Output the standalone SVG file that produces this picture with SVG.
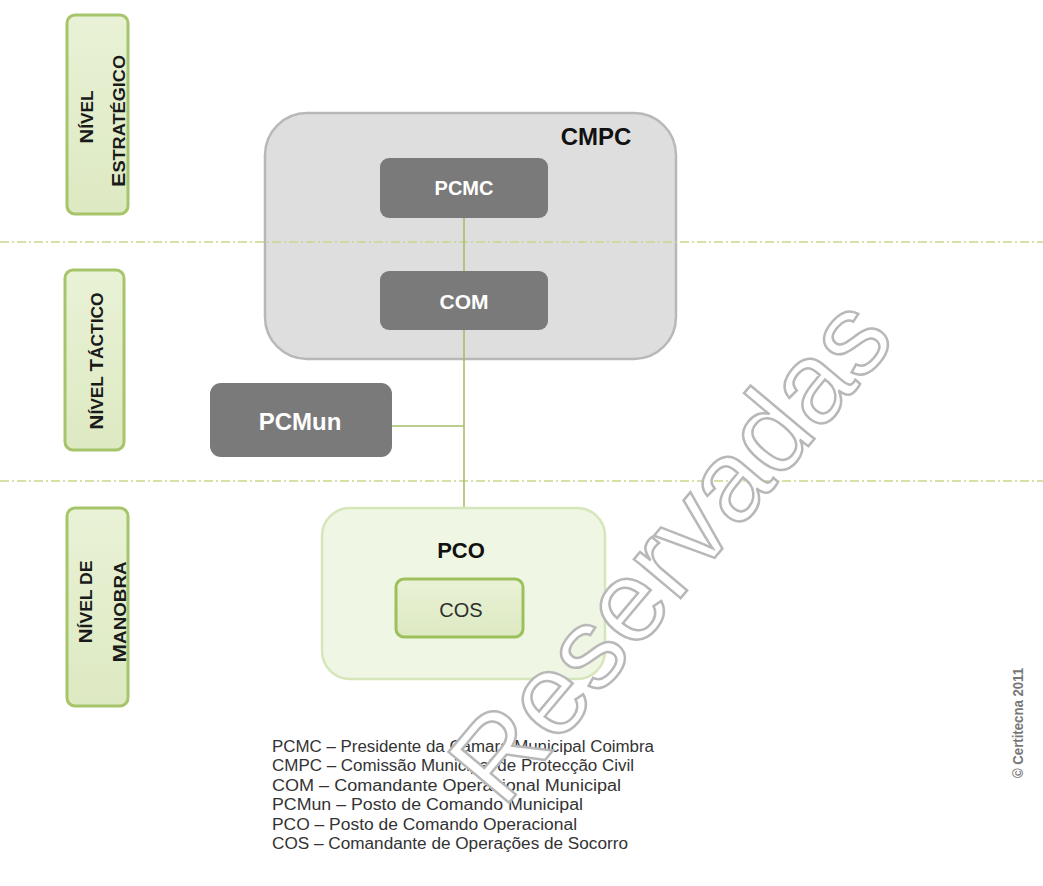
<svg xmlns="http://www.w3.org/2000/svg" width="1043" height="886" viewBox="0 0 1043 886">
<style>
.sep{stroke:#c6d78a;stroke-width:1.6;stroke-dasharray:9 3 2 3;fill:none}
.lvl{fill:url(#gl);stroke:#a6c56a;stroke-width:3}
.lvt{font-family:"Liberation Sans",Arial,sans-serif;font-weight:bold;fill:#1a1a1a;text-anchor:middle}
.dark{fill:#7a7a7a}
.wt{font-family:"Liberation Sans",Arial,sans-serif;font-weight:bold;fill:#ffffff;text-anchor:middle}
.bt{font-family:"Liberation Sans",Arial,sans-serif;font-weight:bold;fill:#111;text-anchor:middle}
.leg{font-family:"Liberation Sans",Arial,sans-serif;font-size:16px;fill:#333}
.con{stroke:#a3bf68;stroke-width:1.6;fill:none}
</style>
<defs>
<linearGradient id="gl" x1="0" y1="0" x2="0" y2="1">
<stop offset="0" stop-color="#e9f2d6"/><stop offset="1" stop-color="#dde9c2"/>
</linearGradient>
</defs>
<rect width="1043" height="886" fill="#ffffff"/>
<g id="level-estrategico">
<rect class="lvl" x="67" y="15" width="61" height="199" rx="8"/>
<text class="lvt" transform="translate(93,117) rotate(-90)" textLength="53" lengthAdjust="spacingAndGlyphs"><tspan font-size="19">N</tspan><tspan font-size="16">ÍVEL</tspan></text>
<text class="lvt" transform="translate(125,121) rotate(-90)" textLength="132" lengthAdjust="spacingAndGlyphs"><tspan font-size="19">E</tspan><tspan font-size="16">STRATÉGICO</tspan></text>
</g>
<g id="level-tactico">
<rect class="lvl" x="65" y="270" width="59" height="180" rx="8"/>
<text class="lvt" transform="translate(103,361) rotate(-90)" textLength="137" lengthAdjust="spacingAndGlyphs"><tspan font-size="19">N</tspan><tspan font-size="16">ÍVEL </tspan><tspan font-size="19">T</tspan><tspan font-size="16">ÁCTICO</tspan></text>
</g>
<g id="level-manobra">
<rect class="lvl" x="67" y="508" width="61" height="198" rx="8"/>
<text class="lvt" transform="translate(92,602) rotate(-90)" textLength="83" lengthAdjust="spacingAndGlyphs"><tspan font-size="19">N</tspan><tspan font-size="16">ÍVEL DE</tspan></text>
<text class="lvt" transform="translate(126,612) rotate(-90)" textLength="101" lengthAdjust="spacingAndGlyphs"><tspan font-size="19">M</tspan><tspan font-size="16">ANOBRA</tspan></text>
</g>
<g id="CMPC">
<rect x="265" y="113" width="411" height="246" rx="42" fill="#dedede" stroke="#b8b8b8" stroke-width="2.5"/>
<text class="bt" x="596" y="145" font-size="24">CMPC</text>
</g>
<g id="separators">
<line class="sep" x1="0" y1="242" x2="1043" y2="242"/>
<line class="sep" x1="0" y1="481" x2="1043" y2="481"/>
</g>
<g id="connectors">
<line class="con" x1="464" y1="218" x2="464" y2="272"/>
<line class="con" x1="464" y1="330" x2="464" y2="509"/>
<line class="con" x1="392" y1="426" x2="464" y2="426"/>
</g>
<g id="PCMC">
<rect class="dark" x="380" y="158" width="168" height="60" rx="9"/>
<text class="wt" x="464" y="195" font-size="20">PCMC</text>
</g>
<g id="COM">
<rect class="dark" x="380" y="271" width="168" height="59" rx="9"/>
<text class="wt" x="464" y="309" font-size="21">COM</text>
</g>
<g id="PCMun">
<rect class="dark" x="210" y="383" width="182" height="74" rx="11"/>
<text class="wt" x="300" y="430" font-size="24">PCMun</text>
</g>
<g id="PCO">
<rect x="322" y="508" width="283" height="171" rx="28" fill="#eff6e3" stroke="#d6e6bb" stroke-width="2.5"/>
<text class="bt" x="461" y="558" font-size="22">PCO</text>
</g>
<g id="COS">
<rect x="396" y="579" width="127" height="58" rx="8" fill="url(#gl)" stroke="#9dbf5c" stroke-width="3"/>
<text x="461" y="617" font-family="'Liberation Sans',Arial,sans-serif" font-size="20" fill="#2e2e2e" text-anchor="middle">COS</text>
</g>
<g id="legend">
<text class="leg" x="272" y="752" textLength="382" lengthAdjust="spacingAndGlyphs">PCMC – Presidente da Câmara Municipal  Coimbra</text>
<text class="leg" x="272" y="771" textLength="362" lengthAdjust="spacingAndGlyphs">CMPC – Comissão Municipal  de Protecção Civil</text>
<text class="leg" x="272" y="791" textLength="349" lengthAdjust="spacingAndGlyphs">COM – Comandante Operacional Municipal</text>
<text class="leg" x="272" y="810" textLength="311" lengthAdjust="spacingAndGlyphs">PCMun – Posto de Comando Municipal</text>
<text class="leg" x="272" y="830" textLength="305" lengthAdjust="spacingAndGlyphs">PCO – Posto de Comando Operacional</text>
<text class="leg" x="272" y="849" textLength="356" lengthAdjust="spacingAndGlyphs">COS – Comandante de Operações de Socorro</text>
</g>
<g id="copyright">
<text transform="translate(1023,723) rotate(-90)" font-family="'Liberation Sans',Arial,sans-serif" font-weight="bold" font-size="14" fill="#777777" text-anchor="middle" textLength="110" lengthAdjust="spacingAndGlyphs">© Certitecna 2011</text>
</g>
<g id="watermark">
<text transform="translate(503,810) rotate(-50)" font-family="'Liberation Sans',Arial,sans-serif" font-size="115" fill="#ffffff" stroke="#b8b8b8" stroke-width="2.5">Reservadas</text>
</g>
</svg>
